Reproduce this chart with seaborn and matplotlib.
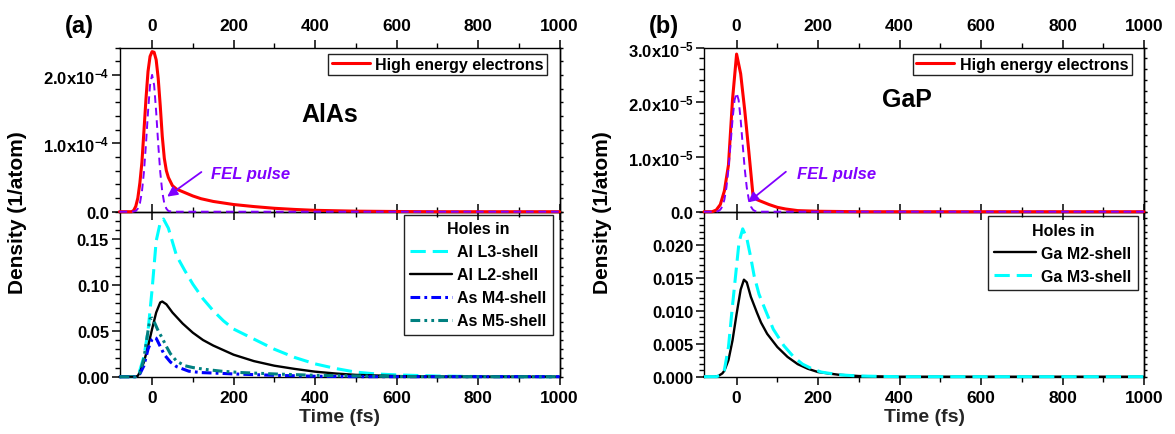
import numpy as np
import matplotlib
matplotlib.use("Agg")
import matplotlib.pyplot as plt
import seaborn as sns
from matplotlib.ticker import MultipleLocator, FixedLocator, FuncFormatter, FormatStrFormatter

# ---------------- AlAs ----------------
# high-energy electrons, units of 1e-4 per atom
alas_elec_t = [-80, -50, -45, -40, -35, -30, -25, -20, -15, -10, -5, 0, 5, 10, 15, 20, 25, 30,
               35, 40, 50, 60, 80, 100, 120, 150, 200, 250, 300, 350, 400, 500, 600, 700, 1000]
alas_elec = [0, 0, 0.02, 0.08, 0.2, 0.42, 0.72, 1.18, 1.65, 2.05, 2.27, 2.34, 2.33, 2.22, 1.95, 1.55,
             1.1, 0.78, 0.6, 0.5, 0.38, 0.33, 0.28, 0.23, 0.19, 0.15, 0.105, 0.075, 0.05, 0.033,
             0.02, 0.008, 0.003, 0, 0]
# FEL pulse profile, units of 1e-4
alas_fel_t = [-80, -50, -40, -35, -30, -25, -20, -15, -10, -5, 0, 5, 10, 15, 20, 25, 30, 35, 40, 50, 1000]
alas_fel = [0, 0, 0.01, 0.045, 0.12, 0.29, 0.58, 0.99, 1.46, 1.85, 2.0, 1.85, 1.46, 0.99, 0.58,
            0.29, 0.12, 0.045, 0.01, 0, 0]
# core holes (1/atom)
al_l3_t = [-80, -40, -35, -30, -20, -10, 0, 10, 20, 28, 40, 60, 80, 100, 125, 150, 175, 200, 250,
           300, 350, 400, 450, 500, 550, 600, 700, 800, 1000]
al_l3 = [0, 0, 0.002, 0.007, 0.022, 0.05, 0.095, 0.148, 0.168, 0.172, 0.162, 0.132, 0.116, 0.101,
         0.085, 0.072, 0.061, 0.052, 0.041, 0.03, 0.021, 0.014, 0.009, 0.005, 0.003, 0.002,
         0.0007, 0.0002, 0]
al_l2_t = [-80, -40, -35, -30, -20, -10, 0, 10, 20, 25, 35, 50, 75, 100, 125, 150, 175, 200, 250,
           300, 350, 400, 450, 500, 600, 700, 1000]
al_l2 = [0, 0, 0.001, 0.005, 0.016, 0.033, 0.052, 0.07, 0.081, 0.082, 0.079, 0.07, 0.058, 0.048,
         0.04, 0.034, 0.029, 0.024, 0.017, 0.012, 0.0085, 0.0055, 0.0035, 0.002, 0.0007, 0.0002, 0]
as_m4_t = [-80, -40, -30, -20, -10, 0, 5, 10, 20, 30, 45, 60, 90, 120, 150, 200, 300, 400, 500, 1000]
as_m4 = [0, 0, 0.003, 0.012, 0.03, 0.041, 0.043, 0.042, 0.033, 0.024, 0.016, 0.011, 0.006, 0.0045,
         0.004, 0.003, 0.0015, 0.0005, 0, 0]
as_m5_t = [-80, -40, -30, -20, -10, -5, 0, 5, 15, 25, 35, 45, 60, 80, 100, 130, 170, 220, 300,
           400, 500, 600, 700, 1000]
as_m5 = [0, 0, 0.004, 0.02, 0.05, 0.063, 0.064, 0.06, 0.05, 0.042, 0.033, 0.025, 0.017, 0.012,
         0.01, 0.008, 0.006, 0.0045, 0.003, 0.0015, 0.0008, 0.0002, 0, 0]

# ---------------- GaP ----------------
# high-energy electrons, units of 1e-5 per atom
gap_elec_t = [-80, -60, -50, -40, -30, -20, -10, 0, 10, 20, 30, 40, 50, 60, 70, 80, 100, 120, 150,
              200, 300, 1000]
gap_elec = [0, 0, 0.03, 0.13, 0.38, 0.85, 2.05, 2.88, 2.52, 1.85, 1.1, 0.32, 0.22, 0.19, 0.16,
            0.13, 0.08, 0.05, 0.02, 0.008, 0, 0]
# FEL pulse profile, units of 1e-5
gap_fel_t = [-80, -50, -45, -40, -35, -30, -25, -20, -15, -10, -5, 0, 5, 10, 15, 20, 25, 30, 35,
             40, 45, 50, 1000]
gap_fel = [0, 0, 0.012, 0.037, 0.095, 0.22, 0.44, 0.78, 1.22, 1.68, 2.04, 2.17, 2.04, 1.68, 1.22,
           0.78, 0.44, 0.22, 0.095, 0.037, 0.012, 0, 0]
ga_m2_t = [-80, -55, -45, -35, -30, -20, -10, 0, 10, 18, 25, 35, 50, 60, 75, 100, 125, 150, 175,
           200, 250, 300, 400, 1000]
ga_m2 = [0, 0, 0.0001, 0.0005, 0.0009, 0.0025, 0.0055, 0.0095, 0.0132, 0.0147, 0.0143, 0.0121,
         0.0097, 0.0082, 0.0065, 0.0045, 0.003, 0.0019, 0.0012, 0.0007, 0.0003, 0.0001, 0, 0]
ga_m3_t = [-80, -50, -40, -30, -20, -10, 0, 6, 15, 25, 35, 43, 55, 70, 90, 116, 140, 162, 185,
           208, 250, 300, 400, 1000]
ga_m3 = [0, 0, 0.0002, 0.001, 0.0045, 0.0108, 0.0168, 0.0204, 0.0224, 0.021, 0.018, 0.0153,
         0.0125, 0.0102, 0.0072, 0.0047, 0.003, 0.0019, 0.0012, 0.0007, 0.0003, 0.0001, 0, 0]

# labelled y ticks of the lower panels
alas_hole_ticks = [0.0, 0.05, 0.10, 0.15]
gap_hole_ticks = [0.0, 0.005, 0.010, 0.015, 0.020]

RED = "#FF0000"
PURPLE = "#8000FF"
CYAN = "#00FFFF"
BLUE = "#0000FF"
TEAL = "#008080"

sns.set_style("ticks")
plt.rcParams.update({
    "font.family": ["Liberation Sans", "DejaVu Sans"],
    "font.weight": "bold",
    "axes.labelweight": "bold",
    "mathtext.fontset": "custom",
    "mathtext.rm": "Liberation Sans:bold",
    "mathtext.it": "Liberation Sans:italic:bold",
    "mathtext.bf": "Liberation Sans:bold",
    "mathtext.default": "rm",
    "lines.scale_dashes": False,
    "axes.edgecolor": "black",
    "axes.linewidth": 1.0,
    "xtick.color": "black",
    "ytick.color": "black",
    "text.color": "black",
})

fig = plt.figure(figsize=(11.75, 4.35), dpi=100)

W = 440 / 1175
lefts = [119.5 / 1175, 704 / 1175]
top_rect = (1 - 212.7 / 435, (212.7 - 48.5) / 435)
bot_rect = (1 - 377.7 / 435, (377.7 - 212.7) / 435)


def sci_label(v, pos):
    if abs(v) < 1e-15:
        return "0.0"
    e = int(np.floor(np.log10(abs(v)) + 1e-9))
    m = v / 10 ** e
    return f"{m:.1f}x10$^{{{e}}}$"


def style_axes(ax, upper):
    ax.set_xlim(-80, 1000)
    ax.xaxis.set_major_locator(MultipleLocator(200))
    ax.xaxis.set_minor_locator(MultipleLocator(100))
    ax.tick_params(axis="both", which="major", direction="out", length=6, width=1.1,
                   labelsize=12.5)
    ax.tick_params(axis="both", which="minor", direction="out", length=3.5, width=1.0)
    ax.tick_params(axis="x", which="both", top=True, bottom=True,
                   labeltop=upper, labelbottom=not upper,
                   pad=4.5 if upper else 3.5)
    ax.tick_params(axis="y", which="both", left=True, right=False, pad=1.5, labelsize=12)
    for s in ax.spines.values():
        s.set_visible(True)
        s.set_linewidth(1.0)
    ax.set_facecolor("none")
    sec = ax.secondary_yaxis("right")
    sec.yaxis.set_major_locator(ax.yaxis.get_major_locator())
    sec.yaxis.set_minor_locator(ax.yaxis.get_minor_locator())
    sec.tick_params(which="both", direction="out", length=2.5, width=1.0, labelright=False)


def draw(ax, t, v, color, lw, dashes=None, label=None, z=3):
    sns.lineplot(x=t, y=v, ax=ax, color=color, lw=lw, clip_on=False, zorder=z, label=label,
                 legend=False)
    line = ax.lines[-1]
    if dashes is not None:
        line.set_dashes(dashes)
    return line


panels = [
    dict(elec_t=alas_elec_t, elec=alas_elec, fel_t=alas_fel_t, fel=alas_fel, scale=1e-4,
         ytop=2.4e-4, ymaj=1e-4, ymin=0.2e-4, name="AlAs", name_xy=(435, 1.43e-4),
         fel_txt=(145, 0.56e-4), arrow_from=(121, 0.58e-4), arrow_to=(37, 0.22e-4),
         tag="(a)"),
    dict(elec_t=gap_elec_t, elec=gap_elec, fel_t=gap_fel_t, fel=gap_fel, scale=1e-5,
         ytop=3.0e-5, ymaj=1e-5, ymin=0.2e-5, name="GaP", name_xy=(418, 2.06e-5),
         fel_txt=(148, 0.70e-5), arrow_from=(121, 0.73e-5), arrow_to=(28, 0.17e-5),
         tag="(b)"),
]

leg_kw = dict(fontsize=11.5, frameon=True, fancybox=False, framealpha=1, edgecolor="#222222",
              borderaxespad=0, handletextpad=0.35)

for i, p in enumerate(panels):
    x0 = lefts[i]
    ax_b = fig.add_axes([x0, bot_rect[0], W, bot_rect[1]])
    ax_t = fig.add_axes([x0, top_rect[0], W, top_rect[1]])
    ax_t.set_zorder(3)

    # upper panel: electrons and FEL pulse
    ax_t.set_ylim(0, p["ytop"])
    ax_t.yaxis.set_major_locator(MultipleLocator(p["ymaj"]))
    ax_t.yaxis.set_minor_locator(MultipleLocator(p["ymin"]))
    ax_t.yaxis.set_major_formatter(FuncFormatter(sci_label))
    elec = np.array(p["elec"]) * p["scale"]
    fel = np.array(p["fel"]) * p["scale"]
    l_e = draw(ax_t, p["elec_t"], elec, RED, 2.2, label="High energy electrons")
    draw(ax_t, p["fel_t"], fel, PURPLE, 1.4, dashes=(5.5, 3.5), z=4)
    style_axes(ax_t, upper=True)
    ax_t.legend(handles=[l_e], labels=["High energy electrons"], loc="upper right",
                bbox_to_anchor=(0.972, 0.963), handlelength=2.4, borderpad=0.2, **leg_kw)
    ax_t.text(*p["name_xy"], p["name"], ha="center", va="center", fontsize=18)
    ax_t.text(*p["fel_txt"], "FEL pulse", ha="left", va="center", fontsize=12,
              style="italic", color=PURPLE)
    ax_t.annotate("", xy=p["arrow_to"], xytext=p["arrow_from"],
                  arrowprops=dict(arrowstyle="-|>", color=PURPLE, lw=1.3,
                                  mutation_scale=15, shrinkA=0, shrinkB=0))
    ax_t.set_xlabel("")
    ax_t.set_ylabel("")

    # lower panel: core holes
    if i == 0:
        ax_b.set_ylim(0, 0.18)
        ax_b.yaxis.set_major_locator(FixedLocator(alas_hole_ticks))
        ax_b.yaxis.set_minor_locator(MultipleLocator(0.01))
        ax_b.yaxis.set_major_formatter(FormatStrFormatter("%.2f"))
        h1 = draw(ax_b, al_l3_t, al_l3, CYAN, 2.2, dashes=(11, 5))
        h2 = draw(ax_b, al_l2_t, al_l2, "black", 1.7)
        h3 = draw(ax_b, as_m4_t, as_m4, BLUE, 2.2, dashes=(7, 3, 2, 3))
        h4 = draw(ax_b, as_m5_t, as_m5, TEAL, 2.2, dashes=(7, 3, 2, 3, 2, 3))
        handles = [h1, h2, h3, h4]
        labels = ["Al L3-shell", "Al L2-shell", "As M4-shell", "As M5-shell"]
        anchor = (0.985, 0.98)
    else:
        ax_b.set_ylim(0, 0.025)
        ax_b.yaxis.set_major_locator(FixedLocator(gap_hole_ticks))
        ax_b.yaxis.set_minor_locator(MultipleLocator(0.001))
        ax_b.yaxis.set_major_formatter(FormatStrFormatter("%.3f"))
        h2 = draw(ax_b, ga_m2_t, ga_m2, "black", 1.7)
        h1 = draw(ax_b, ga_m3_t, ga_m3, CYAN, 2.2, dashes=(11, 5))
        handles = [h2, h1]
        labels = ["Ga M2-shell", "Ga M3-shell"]
        anchor = (0.986, 0.972)
    style_axes(ax_b, upper=False)
    ax_b.legend(handles=handles, labels=labels, title="Holes in", title_fontsize=11.5,
                loc="upper right", bbox_to_anchor=anchor, handlelength=2.6,
                labelspacing=0.5, borderpad=0.4, **leg_kw)
    ax_b.set_xlabel("Time (fs)", fontsize=14, labelpad=2)
    ax_b.set_ylabel("")

    # shared y label and panel tag
    xl = (lefts[i] * 1175 - 102) / 1175
    fig.text(xl, 1 - 212.7 / 435, "Density (1/atom)", rotation=90, ha="center",
             va="center", fontsize=15)
    fig.text((lefts[i] * 1175 - 40.5) / 1175, 1 - 27 / 435, p["tag"], ha="center",
             va="center", fontsize=17)

fig.savefig("out.png", dpi=100)
